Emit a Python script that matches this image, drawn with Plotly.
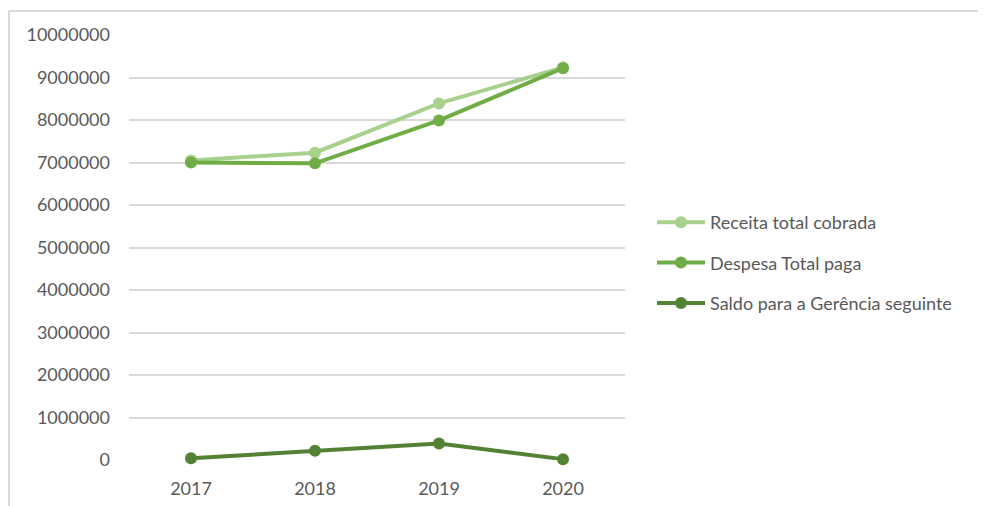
import plotly.graph_objects as go

years = ["2017", "2018", "2019", "2020"]
receita = [7050000, 7230000, 8390000, 9240000]
despesa = [7000000, 6980000, 7990000, 9220000]
saldo = [40000, 220000, 390000, 20000]

names = ["Receita total cobrada", "Despesa Total paga", "Saldo para a Gerência seguinte"]
colors = ["#A9D18E", "#70AD47", "#548235"]
series = [receita, despesa, saldo]

OFF = 8  # page body offset
W, H = 986 - OFF, 506 - OFF
L, T = 129 - OFF, 35 - OFF
PR, PB = 625 - OFF, 460 - OFF  # plot right / bottom in figure px
R, B = W - PR, H - PB
pw, ph = PR - L, PB - T

fig = go.Figure()
for i, (nm, col, vals) in enumerate(zip(names, colors, series)):
    fig.add_trace(go.Scatter(
        x=years, y=vals, name=nm, mode="lines+markers",
        line=dict(color=col, width=4),
        marker=dict(color=col, size=12),
        legendgroup=f"g{i}",
        cliponaxis=False,
    ))

def px_x(x):
    return (x - OFF - L) / pw

def px_y(y):
    return (PB - (y - OFF)) / ph

fig.update_layout(
    width=W, height=H,
    margin=dict(l=L, r=R, t=T, b=B, autoexpand=False),
    paper_bgcolor="white", plot_bgcolor="white",
    font=dict(family="Lato, Open Sans, sans-serif", size=18, color="#595959"),
    showlegend=True,
    legend=dict(x=px_x(652), y=px_y(263), xanchor="left", yanchor="middle",
                font=dict(size=18, color="#595959"), tracegroupgap=14,
                itemwidth=48, bgcolor="rgba(0,0,0,0)"),
    xaxis=dict(type="category", range=[-0.5, 3.5], showgrid=False, zeroline=False,
               showline=False, ticks="", ticklabelstandoff=16, automargin=False,
               tickfont=dict(size=18, color="#595959")),
    yaxis=dict(range=[0, 10000000], dtick=1000000, tickformat="d", showgrid=True,
               gridcolor="#D9D9D9", gridwidth=1.5, zeroline=False, showline=False,
               ticks="", ticklabelstandoff=18, automargin=False,
               tickfont=dict(size=18, color="#595959")),
    shapes=[
        dict(type="line", xref="paper", yref="paper", x0=px_x(9), x1=px_x(990),
             y0=px_y(11), y1=px_y(11), line=dict(color="#D9D9D9", width=2)),
        dict(type="line", xref="paper", yref="paper", x0=px_x(9), x1=px_x(9),
             y0=px_y(11), y1=px_y(510), line=dict(color="#D9D9D9", width=2)),
    ],
)

fig.write_html("out.html")
